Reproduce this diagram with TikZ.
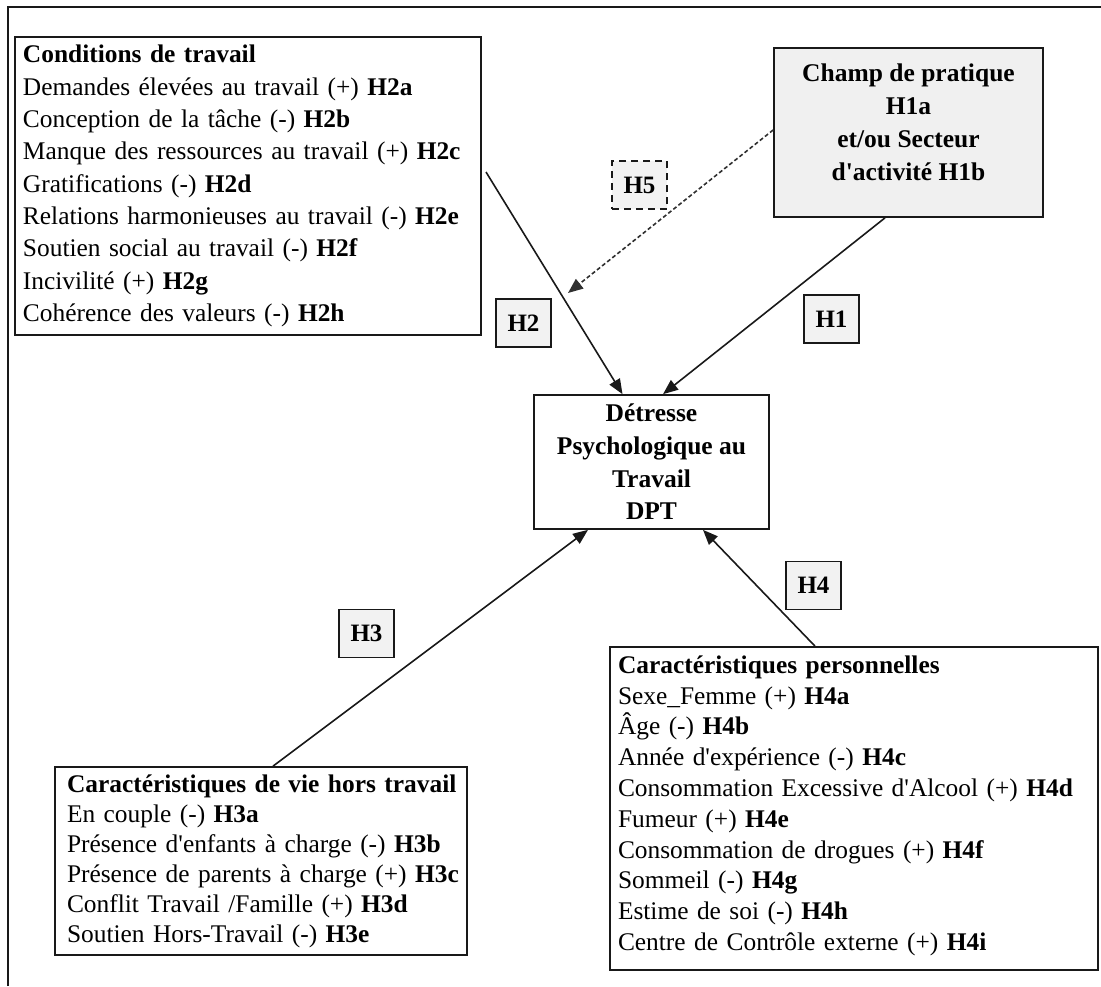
\documentclass[tikz,border=0pt]{standalone}
\usepackage{fontspec}
\setmainfont{Liberation Serif}
\usetikzlibrary{arrows.meta}
\definecolor{ink}{RGB}{25,25,25}
\definecolor{boxgray}{RGB}{240,240,240}
\definecolor{labgray}{RGB}{242,242,242}
\newcommand{\apos}{\textquotesingle}
\tikzset{
  listbox/.style={draw=ink, line width=1.7pt, fill=white, align=left, inner xsep=8pt, inner ysep=4pt},
  centerbox/.style={draw=ink, line width=1.7pt, align=center, inner sep=4pt, font=\bfseries\fontsize{25.5}{33}\selectfont},
  labbox/.style={draw=ink, line width=1.5pt, fill=labgray, minimum width=55pt, minimum height=48pt, inner sep=0pt, font=\bfseries\fontsize{25}{26}\selectfont},
  arr/.style={draw=ink, line width=1.6pt, -{Triangle[length=15pt,width=12pt]}},
  dasharr/.style={draw=ink!90, line width=1.6pt, dash pattern=on 4pt off 2.5pt, -{Triangle[length=15pt,width=12pt]}}
}
\begin{document}
\begin{tikzpicture}[x=1pt,y=-1pt]
\useasboundingbox (0,0) rectangle (1101,986);
\draw[ink, line width=1.7pt] (8,986) -- (8,7) -- (1101,7);

% Conditions de travail
\node[listbox, text width=450pt, minimum height=298pt, font=\fontsize{25.4}{32.3}\selectfont] (cond) at (248,186) {%
\textbf{Conditions de travail}\\
Demandes élevées au travail (+) \textbf{H2a}\\
Conception de la tâche (-) \textbf{H2b}\\
Manque des ressources au travail (+) \textbf{H2c}\\
Gratifications (-) \textbf{H2d}\\
Relations harmonieuses au travail (-) \textbf{H2e}\\
Soutien social au travail (-) \textbf{H2f}\\
Incivilité (+) \textbf{H2g}\\
Cohérence des valeurs (-) \textbf{H2h}};

% Champ de pratique
\node[centerbox, fill=boxgray, minimum width=269pt, minimum height=169pt] (champ) at (908.5,132.5) {%
Champ de pratique\\
H1a\\
et/ou Secteur\\
d\apos activité H1b\\[-12pt]\mbox{}};

% DPT
\node[centerbox, font=\bfseries\fontsize{25.5}{32.7}\selectfont, minimum width=235pt, minimum height=134pt] (dpt) at (651.5,462) {%
Détresse\\
Psychologique au\\
Travail\\
DPT};

% Caracteristiques de vie hors travail
\node[listbox, inner xsep=6pt, text width=400pt, minimum height=188pt, font=\fontsize{25.4}{30}\selectfont] (vie) at (261,861) {%
\hspace*{6pt}\textbf{Caractéristiques de vie hors travail}\\
\hspace*{6pt}En couple (-) \textbf{H3a}\\
\hspace*{6pt}Présence d\apos enfants à charge (-) \textbf{H3b}\\
\hspace*{6pt}Présence de parents à charge (+) \textbf{H3c}\\
\hspace*{6pt}Conflit Travail /Famille (+) \textbf{H3d}\\
\hspace*{6pt}Soutien Hors-Travail (-) \textbf{H3e}};

% Caracteristiques personnelles
\node[listbox, text width=472pt, minimum height=323pt, font=\fontsize{25.4}{30.8}\selectfont] (perso) at (854,808.5) {%
\textbf{Caractéristiques personnelles}\\
Sexe\_Femme (+) \textbf{H4a}\\
Âge (-) \textbf{H4b}\\
Année d\apos expérience (-) \textbf{H4c}\\
Consommation Excessive d\apos Alcool (+) \textbf{H4d}\\
Fumeur (+) \textbf{H4e}\\
Consommation de drogues (+) \textbf{H4f}\\
Sommeil (-) \textbf{H4g}\\
Estime de soi (-) \textbf{H4h}\\
Centre de Contrôle externe (+) \textbf{H4i}\\[-20pt]\mbox{}};

% labels
\node[labbox, dash pattern=on 7pt off 5pt] (h5) at (639.5,185) {H5};
\node[labbox] (h2) at (523.5,323) {H2};
\node[labbox] (h1) at (831.5,319) {H1};
\node[labbox] (h3) at (366.5,633.5) {H3};
\node[labbox] (h4) at (813.5,585.5) {H4};

% connectors
\coordinate (h2start) at (486,172);
\coordinate (h5end) at (568,293);
\draw[arr] (h2start) -- ([xshift=-29pt]dpt.north);
\draw[arr] ([xshift=-23.5pt]champ.south) -- ([xshift=11.5pt]dpt.north);
\draw[dasharr] ([yshift=2.5pt]champ.west) -- (h5end);
\draw[arr] ([xshift=12pt]vie.north) -- ([xshift=-63.5pt]dpt.south);
\draw[arr] ([xshift=-39pt]perso.north) -- ([xshift=51.5pt]dpt.south);
\end{tikzpicture}
\end{document}
